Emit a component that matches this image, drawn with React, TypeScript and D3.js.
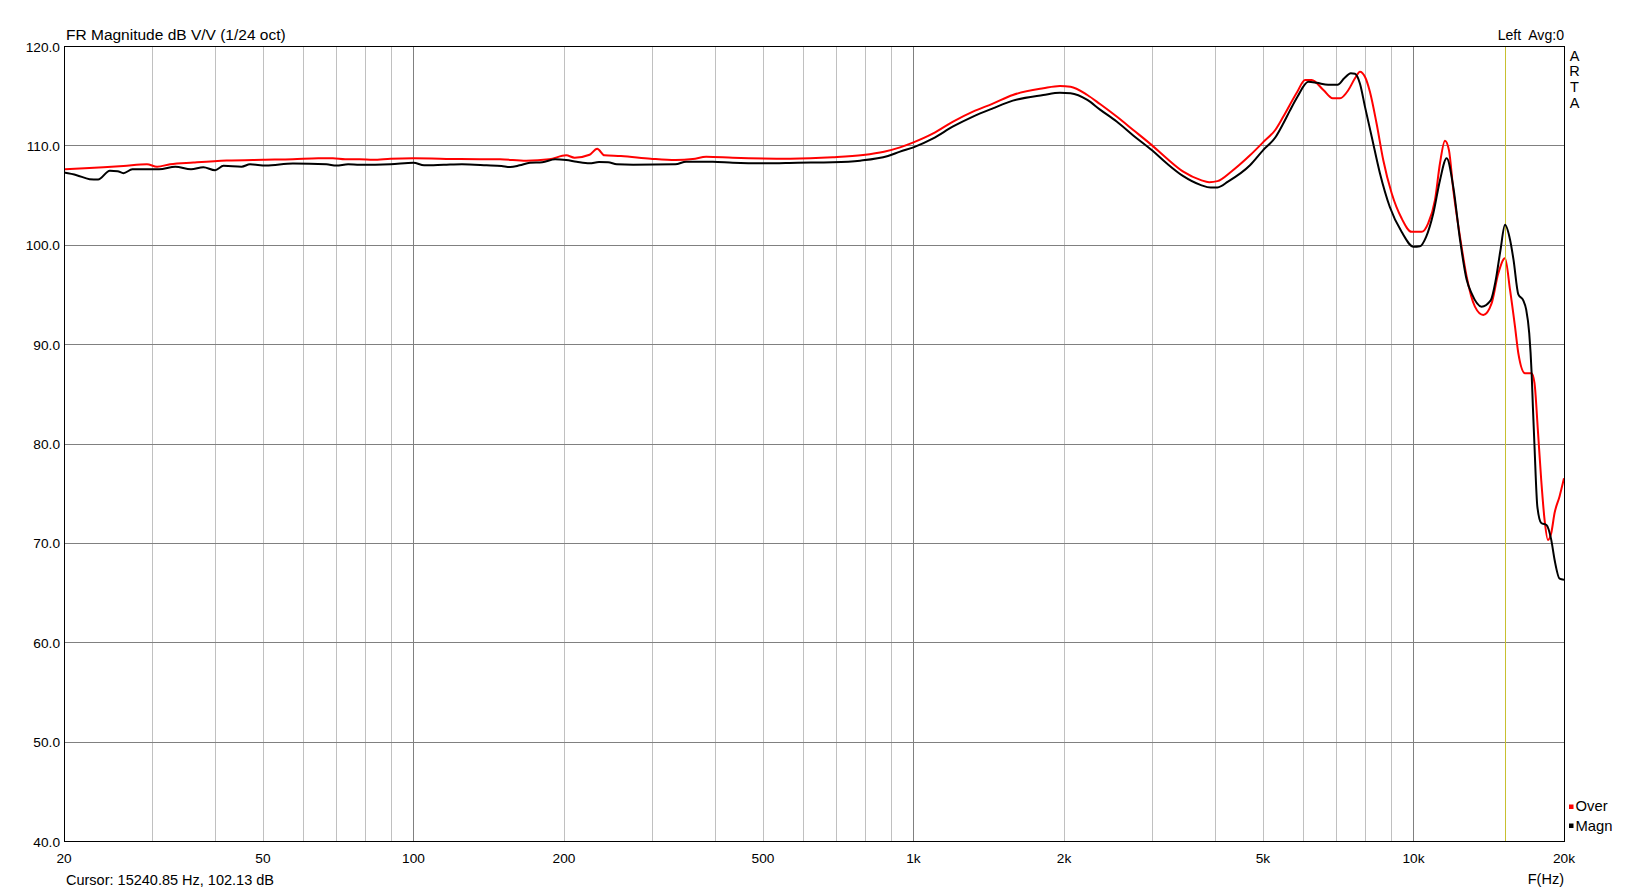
import React from "react";
import * as d3 from "d3";

const W = 1628;
const H = 892;

const xTickValues = [20, 50, 100, 200, 500, 1000, 2000, 5000, 10000, 20000];
const xTickLabels = ["20", "50", "100", "200", "500", "1k", "2k", "5k", "10k", "20k"];
const yTickValues = [120, 110, 100, 90, 80, 70, 60, 50, 40];
const majorFreqs = [100, 1000, 10000];

const overFreq = [20, 22, 24, 26.3, 29.3, 30.7, 32.6, 36.3, 42.3, 50, 57.4, 64.5, 69, 73, 78, 83, 90, 100, 124, 149, 168, 187, 202, 210, 225, 233, 241, 260, 298, 334, 362, 385, 435, 567, 690, 793, 873, 940, 1000, 1095, 1200, 1315, 1441, 1580, 1818, 1963, 2061, 2227, 2361, 2549, 2751, 3000, 3208, 3464, 3758, 3903, 4055, 4318, 4710, 5000, 5300, 5492, 5857, 6069, 6257, 6604, 6893, 7130, 7410, 7638, 7816, 7997, 8182, 8437, 8702, 9041, 9467, 9913, 10380, 10700, 11041, 11298, 11560, 11776, 12013, 12390, 12772, 13270, 13790, 14329, 14775, 15243, 15600, 15960, 16206, 16711, 17230, 17460, 17730, 18010, 18290, 18570, 18860, 19150, 19600, 20000];
const overDb = [107.6, 107.7, 107.8, 107.93, 108.1, 107.85, 108.1, 108.27, 108.47, 108.55, 108.6, 108.7, 108.7, 108.6, 108.6, 108.55, 108.65, 108.7, 108.62, 108.6, 108.46, 108.6, 109.0, 108.76, 109.06, 109.66, 109.0, 108.93, 108.66, 108.52, 108.62, 108.86, 108.76, 108.66, 108.8, 109.03, 109.36, 109.8, 110.3, 111.2, 112.4, 113.4, 114.2, 115.07, 115.74, 115.97, 115.9, 115.07, 114.16, 112.9, 111.55, 110.0, 108.7, 107.35, 106.5, 106.3, 106.4, 107.35, 109.0, 110.3, 111.6, 112.9, 115.4, 116.58, 116.58, 115.57, 114.74, 114.74, 115.57, 116.75, 117.42, 116.9, 115.4, 112.2, 108.5, 105.2, 102.66, 101.3, 101.3, 102.16, 104.5, 108.2, 110.47, 109.5, 105.5, 100.8, 96.8, 93.77, 92.93, 94.1, 97.1, 98.64, 95.45, 91.75, 89.08, 87.07, 87.07, 86.07, 81.4, 76.3, 72.3, 70.3, 71.0, 73.0, 74.7, 76.5];

const magnFreq = [20, 21.2, 22.5, 23.4, 24.7, 25.6, 26.3, 27.4, 31, 33.4, 35.9, 38, 40.1, 41.7, 45.3, 47.1, 50.7, 57.4, 67, 70.1, 74, 78, 90, 100, 105, 115, 125, 140, 150, 156, 163, 171, 181, 192, 202, 212, 225, 235, 245, 255, 275, 334, 351, 397, 435, 505, 586, 690, 782, 889, 940, 1000, 1095, 1200, 1315, 1441, 1580, 1818, 1963, 2061, 2227, 2361, 2549, 2751, 3000, 3208, 3464, 3758, 3930, 4055, 4255, 4710, 5000, 5300, 5490, 5660, 5860, 6162, 6405, 6750, 7050, 7270, 7493, 7638, 7816, 7997, 8250, 8568, 8968, 9467, 10000, 10300, 10600, 10960, 11298, 11650, 12013, 12390, 12772, 13070, 13680, 14270, 14600, 14920, 15243, 15600, 15850, 16206, 16580, 16800, 17040, 17230, 17330, 17460, 17690, 18010, 18450, 18860, 19150, 19600, 20000];
const magnDb = [107.26, 107.0, 106.6, 106.56, 107.44, 107.4, 107.2, 107.6, 107.6, 107.85, 107.6, 107.8, 107.5, 107.94, 107.85, 108.1, 107.97, 108.17, 108.1, 107.97, 108.1, 108.04, 108.1, 108.25, 108.0, 108.05, 108.1, 108.0, 107.92, 107.82, 107.99, 108.25, 108.3, 108.6, 108.52, 108.35, 108.2, 108.32, 108.3, 108.1, 108.05, 108.1, 108.36, 108.36, 108.25, 108.19, 108.25, 108.3, 108.46, 108.93, 109.37, 109.8, 110.7, 111.9, 112.9, 113.73, 114.5, 115.07, 115.3, 115.24, 114.57, 113.6, 112.4, 111.0, 109.5, 108.2, 106.9, 106.0, 105.75, 105.77, 106.35, 108.0, 109.5, 110.84, 112.2, 113.5, 114.9, 116.4, 116.3, 116.1, 116.1, 116.75, 117.25, 117.2, 116.2, 113.9, 110.87, 107.2, 103.8, 101.3, 99.8, 99.85, 100.8, 103.2, 106.5, 108.7, 105.8, 100.5, 96.5, 95.1, 93.77, 94.4, 96.4, 99.4, 102.0, 100.5, 98.5, 95.0, 94.4, 93.5, 91.1, 87.1, 83.7, 79.7, 73.65, 72.0, 71.8, 70.3, 68.3, 66.4, 66.3];

const cursorFreq = 15240.85;
const cursorDb = 102.13;

const left = 64;
const right = 1564;
const top = 46;
const bottom = 841;

export default function App() {
  const x = d3.scaleLog().domain([20, 20000]).range([left, right]);
  const y = d3.scaleLinear().domain([40, 120]).range([bottom, top]);

  const gridFreqs: number[] = [];
  for (let dec = 10; dec <= 10000; dec *= 10) {
    for (let m = 1; m <= 9; m++) {
      const f = dec * m;
      if (f > 20 && f < 20000) gridFreqs.push(f);
    }
  }

  const line = d3
    .line<[number, number]>()
    .x((d) => x(d[0]))
    .y((d) => y(d[1]))
    .curve(d3.curveMonotoneX);

  const overPts = overFreq.map((f, i) => [f, overDb[i]] as [number, number]);
  const magnPts = magnFreq.map((f, i) => [f, magnDb[i]] as [number, number]);

  const font = "'Liberation Sans', Arial, sans-serif";

  return (
    <svg
      width={W}
      height={H}
      style={{ position: "absolute", left: 0, top: 0, background: "#fff" }}
      fontFamily={font}
    >
      <defs>
        <clipPath id="plotclip">
          <rect x={left} y={top} width={right - left} height={bottom - top} />
        </clipPath>
      </defs>
      <rect x={0} y={0} width={W} height={H} fill="#fff" />
      {gridFreqs.map((f) => (
        <line
          key={"v" + f}
          x1={Math.round(x(f)) + 0.5}
          x2={Math.round(x(f)) + 0.5}
          y1={top}
          y2={bottom}
          stroke={majorFreqs.includes(f) ? "#808080" : "#c0c0c0"}
          strokeWidth={1}
        />
      ))}
      {yTickValues.map((v) => (
        <line
          key={"h" + v}
          x1={left}
          x2={right}
          y1={Math.round(y(v)) + 0.5}
          y2={Math.round(y(v)) + 0.5}
          stroke="#808080"
          strokeWidth={1}
        />
      ))}
      <g clipPath="url(#plotclip)">
        <path d={line(overPts) || ""} fill="none" stroke="#ff0000" strokeWidth={2} strokeLinejoin="round" />
        <line
          x1={Math.round(x(cursorFreq)) + 0.5}
          x2={Math.round(x(cursorFreq)) + 0.5}
          y1={top}
          y2={bottom}
          stroke="#c8c030"
          strokeWidth={1}
        />
        <path d={line(magnPts) || ""} fill="none" stroke="#000000" strokeWidth={2} strokeLinejoin="round" />
      </g>
      <rect
        x={left + 0.5}
        y={top + 0.5}
        width={right - left}
        height={bottom - top}
        fill="none"
        stroke="#000"
        strokeWidth={1}
      />
      {yTickValues.map((v) => (
        <text key={"yl" + v} x={60} y={y(v) + 5.5} fontSize={13.7} textAnchor="end" fill="#000">
          {v.toFixed(1)}
        </text>
      ))}
      {xTickValues.map((v, i) => (
        <text key={"xl" + v} x={x(v)} y={862.5} fontSize={13.7} textAnchor="middle" fill="#000">
          {xTickLabels[i]}
        </text>
      ))}
      <text x={66} y={40} fontSize={15.5} fill="#000">
        FR Magnitude dB V/V (1/24 oct)
      </text>
      <text x={1564} y={40} fontSize={14.1} textAnchor="end" fill="#000" style={{ whiteSpace: "pre" }}>
        {"Left  Avg:0"}
      </text>
      {["A", "R", "T", "A"].map((c, i) => (
        <text key={"arta" + i} x={1574.5} y={60.5 + i * 15.8} fontSize={14.5} textAnchor="middle" fill="#000">
          {c}
        </text>
      ))}
      <text x={66} y={884.5} fontSize={14.5} fill="#000">
        {`Cursor: ${cursorFreq} Hz, ${cursorDb} dB`}
      </text>
      <text x={1564} y={883.5} fontSize={14.5} textAnchor="end" fill="#000">
        F(Hz)
      </text>
      <rect x={1569} y={804.5} width={4.5} height={4.5} fill="#ff0000" />
      <text x={1575.5} y={811} fontSize={14.8} fill="#000">
        Over
      </text>
      <rect x={1569} y={823.5} width={4.5} height={4.5} fill="#000" />
      <text x={1575.5} y={830.5} fontSize={14.8} fill="#000">
        Magn
      </text>
    </svg>
  );
}
